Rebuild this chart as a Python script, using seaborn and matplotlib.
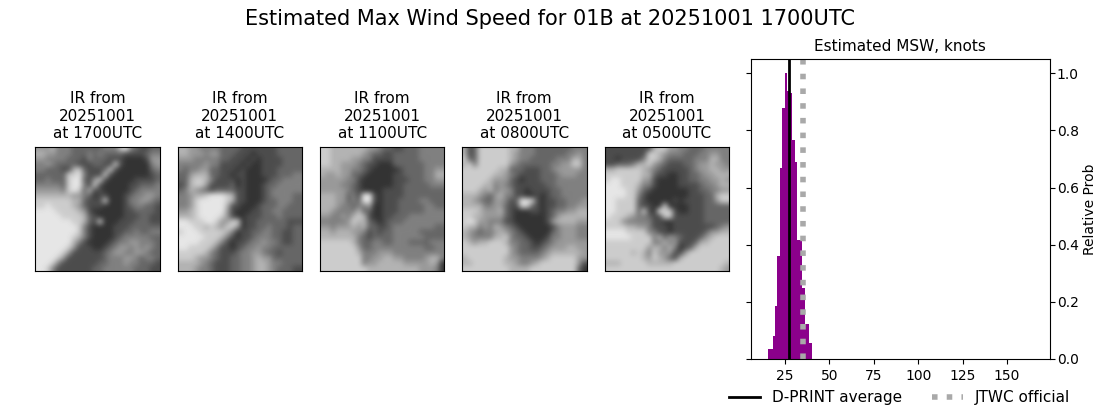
import numpy as np
import seaborn as sns
import matplotlib
matplotlib.use("Agg")
import matplotlib.pyplot as plt

times = ["1700", "1400", "1100", "0800", "0500"]
date = "20251001"

# rough grey levels, 0 dark to 9 bright
ir_1700 = ["666755544444455589543344", "776655544454544443333455", "665555444354443332222366",
           "556544443334433832222256", "554443378433348322222245", "444444889533383222222234",
           "445444899436832222233334", "555554899538322222334445", "666665898473322222345555",
           "777777766542332223455665", "888888877433382223556654", "889888876433322223455443",
           "999988887632222223344443", "999998888743222223334433", "999999988743822233344433",
           "999999998532222333444444", "999999998532222334454455", "999999987532222345555544",
           "999999975322223455665554", "999999863332234566565654", "999998633333345665566544",
           "999986333333345556654554", "999853333333445556554443", "998533333334455555544433"]
ir_1400 = ["776655554444333333344444", "776665664443332333344444", "666555554433323233334444",
           "555556553333232233334444", "545566443332322233344444", "446777443323322233344455",
           "447887533332322223445555", "347886333342322234455555", "457654344443322234555555",
           "556778999873322234555544", "556899999873322234455544", "556899999733222344455444",
           "667899999632223344554444", "777899998632233344454444", "998889986688233444444333",
           "999887876886233445444344", "899988888752334455443344", "999998887532334555443344",
           "999988875323345565543344", "998888753323455655444444", "888887543334556654434444",
           "888766543344556766444444", "777765433344556776554444", "777655433344556776544433"]
ir_1100 = ["887777777665443344455555", "887777776544334444455555", "887777665533334444455555",
           "887766654332224444445555", "777766554322222344445566", "766766443222223344445577",
           "666665532222223334445566", "666655432222223344444555", "666665432222333344444444",
           "777664539932333344444444", "777664549932333444455444", "777655455622333444445544",
           "776555574422333444445555", "665565787322334445555555", "555556877432344455555555",
           "665666767443345555555544", "776777665343445555544444", "777777754344445555554444",
           "888888754455445554444555", "888888864455555555554455", "888888875556665555555555",
           "888888885566776655556775", "888888885667777766666762", "888888888777777777766652"]
ir_0800 = ["734888888775554444444555", "734888888765554444445565", "844888888765544444555775",
           "785888888654444445566885", "888888877444333445666665", "888888776543333444566655",
           "888887666432333444555555", "888877565433333344555555", "888767566533233334455555",
           "777654675533223234455555", "776544665349983233445556", "777755664338843233445566",
           "888766674322233234556677", "887766664322222234677777", "898665553322222236777766",
           "877565765432222223566655", "765455676543222224566655", "765555778544322235566655",
           "876778887554432345666666", "888888888654433456667766", "888888888654444567777776",
           "788888887665555678888866", "778888887765567888888863", "888888888777788888888842"]
ir_0500 = ["333333333788665544455555", "333333338876555444556655", "332333358875444445557755",
           "334445778654333445667665", "778888876543333345667766", "888888877433223344566777",
           "899888866322223344556676", "999888755322223333455677", "999988643222222233445566",
           "999988532222222233344788", "998888432222232333344688", "998888433228222233344444",
           "998888483298832233344444", "988876554338833333344444", "888655555332233333344444",
           "888877665333233333333456", "999988885533233333346677", "999998888574654333467888",
           "888888888557563334778888", "888888886775752347888888", "888887875866633688888888",
           "888888876876437888888888", "777888887777788888888887", "888888888888888888888876"]
panels = [ir_1700, ir_1400, ir_1100, ir_0800, ir_0500]

msw_bins = [15.4, 16.8, 18.2, 19.6, 20.9, 22.3, 23.7, 25.1, 26.5, 27.9, 29.2,
            30.6, 32.0, 33.4, 34.8, 36.1, 37.5, 38.9, 40.3]
msw_prob = [0.036, 0.036, 0.082, 0.186, 0.361, 0.669, 0.879, 1.0, 0.938,
            0.931, 0.767, 0.69, 0.417, 0.417, 0.249, 0.124, 0.124, 0.057]
dprint_avg = 27.2
jtwc_official = 35
msw_ticks = [25, 50, 75, 100, 125, 150]
prob_ticks = [0.0, 0.2, 0.4, 0.6, 0.8, 1.0]

W, H = 1100, 409
fig = plt.figure(figsize=(W / 100, H / 100), dpi=100)
fig.suptitle("Estimated Max Wind Speed for 01B at {} {}UTC".format(date, times[0]),
             fontsize=15, y=0.977)

lefts = [35.4, 177.6, 319.9, 462, 604.8]
for left, grid, hhmm in zip(lefts, panels, times):
    ax = fig.add_axes([left / W, 1 - 271 / H, 124.5 / W, 124.5 / H])
    vals = np.array([[int(c) for c in row] for row in grid])
    ax.imshow(vals, cmap="gray", vmin=0, vmax=10, interpolation="bicubic")
    ax.set_xticks([])
    ax.set_yticks([])
    ax.set_title("IR from\n{}\nat {}UTC".format(date, hhmm), fontsize=11)

ax = fig.add_axes([750.8 / W, 1 - 359 / H, 299 / W, 300 / H])
centers = (np.array(msw_bins[:-1]) + np.array(msw_bins[1:])) / 2
sns.histplot(x=centers, weights=msw_prob, bins=msw_bins, color="darkmagenta",
             element="bars", alpha=1, edgecolor="none", linewidth=0, ax=ax)
ax.axvline(dprint_avg, c="k", lw=2, label="D-PRINT average")
ax.axvline(jtwc_official, c="darkgray", lw=4, ls=":", label="JTWC official")
ax.set_xlim(5.9, 174)
ax.set_ylim(0, 1.05)
ax.set_xticks(msw_ticks)
ax.set_yticks(prob_ticks)
ax.tick_params(axis="y", left=True, right=True, labelleft=False, labelright=True, pad=1.5)
ax.yaxis.set_label_position("right")
ax.set_ylabel("Relative Prob", labelpad=2.8)
ax.set_title("Estimated MSW, knots", fontsize=11)
ax.legend(loc="upper center", bbox_to_anchor=(0.498, -0.058), ncol=2, frameon=False,
          fontsize=11, columnspacing=2.0)

fig.savefig("out.png", dpi=100)
